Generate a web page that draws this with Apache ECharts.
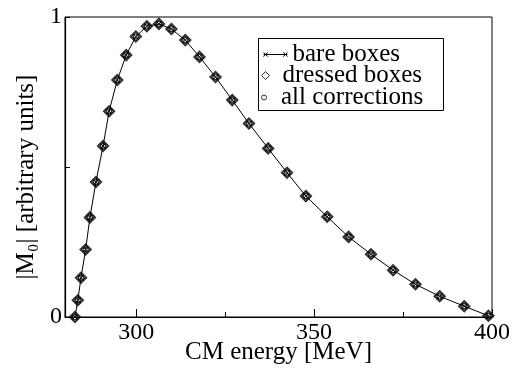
<!DOCTYPE html>
<html>
<head>
<meta charset="utf-8">
<script src="https://cdn.jsdelivr.net/npm/echarts@6/dist/echarts.min.js"></script>
<style>
html,body{margin:0;padding:0;background:#fff;}
#c{width:514px;height:372px;}
</style>
</head>
<body>
<div id="c"></div>
<script>
// CM energy [MeV]
var energy = [282.8, 283.6, 284.5, 285.8, 287.0, 288.7, 290.7, 292.4, 294.7, 297.2,
              299.9, 303.0, 306.4, 309.9, 313.8, 317.8, 322.3, 327.0, 331.7, 337.1,
              342.4, 347.7, 353.7, 359.7, 366.0, 372.2, 378.5, 385.3, 392.2, 399.0];
// |M0| [arbitrary units]
var bareBoxes = [0.000, 0.056, 0.131, 0.225, 0.332, 0.450, 0.570, 0.686, 0.790, 0.873,
                 0.935, 0.969, 0.977, 0.960, 0.923, 0.867, 0.800, 0.723, 0.645, 0.562,
                 0.481, 0.403, 0.334, 0.267, 0.209, 0.156, 0.109, 0.069, 0.036, 0.004];
var dressedBoxes = [0.000, 0.056, 0.131, 0.225, 0.332, 0.450, 0.570, 0.686, 0.790, 0.873,
                    0.935, 0.969, 0.977, 0.960, 0.923, 0.867, 0.800, 0.723, 0.645, 0.562,
                    0.481, 0.403, 0.334, 0.267, 0.209, 0.156, 0.109, 0.069, 0.036, 0.004];
var allCorrections = [0.000, 0.056, 0.131, 0.225, 0.332, 0.450, 0.570, 0.686, 0.790, 0.873,
                      0.935, 0.969, 0.977, 0.960, 0.923, 0.867, 0.800, 0.723, 0.645, 0.562,
                      0.481, 0.403, 0.334, 0.267, 0.209, 0.156, 0.109, 0.069, 0.036, 0.004];
var xMajorTicks = [300, 350, 400];
var xMinorTicks = [325, 375];
var yTicks = [0, 0.5, 1];
var yLabels = [0, 1];
var seriesNames = ['bare boxes', 'dressed boxes', 'all corrections'];

function pairs(xs, ys) { return xs.map(function (x, i) { return [x, ys[i]]; }); }

var FONT = 'Liberation Serif';
var chart = echarts.init(document.getElementById('c'), null, {renderer: 'canvas'});
var xIcon = 'path://M0 2.5 L22 2.5 M0 0.5 L4 4.5 M0 4.5 L4 0.5 M18 0.5 L22 4.5 M18 4.5 L22 0.5';
var xSym = 'path://M0 0 L10 10 M10 0 L0 10';
var diamondIcon = 'path://M4 0 L8 4 L4 8 L0 4 Z';
var circleIcon = 'path://M3 0 A3 3 0 1 1 2.99 0 Z';
var legendText = {fontFamily: FONT, fontSize: 25, color: '#000'};

chart.setOption({
  animation: false,
  backgroundColor: '#fff',
  textStyle: {fontFamily: FONT, color: '#000'},
  grid: {left: 65, top: 17, right: 22, bottom: 55, show: true, borderColor: '#000', borderWidth: 1,
         containLabel: false, outerBoundsMode: 'none'},
  xAxis: [{
    type: 'value', min: 280, max: 400,
    axisLine: {lineStyle: {color: '#000', width: 1.2}},
    axisTick: {inside: true, length: 8, customValues: xMajorTicks, lineStyle: {color: '#000'}},
    axisLabel: {customValues: xMajorTicks, color: '#000', fontFamily: FONT, fontSize: 24, margin: 4},
    splitLine: {show: false},
    name: 'CM energy [MeV]', nameLocation: 'middle', nameGap: 23, nameMoveOverlap: false,
    nameTextStyle: {color: '#000', fontFamily: FONT, fontSize: 25}
  }, {
    type: 'value', min: 280, max: 400, position: 'bottom',
    axisLine: {show: false},
    axisTick: {inside: true, length: 5, customValues: xMinorTicks, lineStyle: {color: '#000'}},
    axisLabel: {show: false},
    splitLine: {show: false}
  }],
  yAxis: {
    type: 'value', min: 0, max: 1,
    axisLine: {show: true, lineStyle: {color: '#000', width: 1.2}},
    axisTick: {show: true, inside: true, length: 5, customValues: yTicks, lineStyle: {color: '#000'}},
    axisLabel: {customValues: yLabels, color: '#000', fontFamily: FONT, fontSize: 24, margin: 3},
    splitLine: {show: false},
    name: '|M\u2080| [arbitrary units]', nameLocation: 'middle', nameGap: 24,
    nameTextStyle: {color: '#000', fontFamily: FONT, fontSize: 25, padding: [0, 20, 0, 0]}
  },
  legend: [{
    left: 261, top: 42, padding: 0, itemWidth: 24, itemHeight: 5, selectedMode: false,
    data: [{name: seriesNames[0], icon: xIcon}],
    itemStyle: {color: 'none', borderColor: '#000', borderWidth: 1},
    textStyle: legendText
  }, {
    left: 261, top: 63, padding: 0, itemWidth: 24, itemHeight: 8, selectedMode: false,
    data: [{name: seriesNames[1], icon: diamondIcon}],
    itemStyle: {color: '#fff', borderColor: '#000', borderWidth: 1},
    textStyle: legendText
  }, {
    left: 261, top: 85, padding: 0, itemWidth: 24, itemHeight: 5, selectedMode: false,
    data: [{name: seriesNames[2], icon: circleIcon}],
    itemStyle: {color: '#fff', borderColor: '#000', borderWidth: 1},
    textStyle: legendText
  }],
  graphic: [{
    type: 'rect', left: 258, top: 38, z: 3,
    shape: {width: 185, height: 72},
    style: {fill: '#fff', stroke: '#000', lineWidth: 1}
  }],
  series: [{
    name: seriesNames[0], type: 'line', data: pairs(energy, bareBoxes),
    symbol: xSym, symbolSize: 5, showAllSymbol: true,
    lineStyle: {color: '#000', width: 1},
    itemStyle: {color: 'none', borderColor: '#000', borderWidth: 1},
    z: 2
  }, {
    name: seriesNames[1], type: 'scatter', data: pairs(energy, dressedBoxes),
    symbol: 'diamond', symbolSize: 10,
    itemStyle: {color: 'rgba(255,255,255,0)', borderColor: '#000', borderWidth: 2.2},
    z: 3
  }, {
    name: seriesNames[2], type: 'scatter', data: pairs(energy, allCorrections),
    symbol: 'circle', symbolSize: 5,
    itemStyle: {color: 'rgba(255,255,255,0)', borderColor: '#000', borderWidth: 1.2},
    z: 4
  }]
});
</script>
</body>
</html>
